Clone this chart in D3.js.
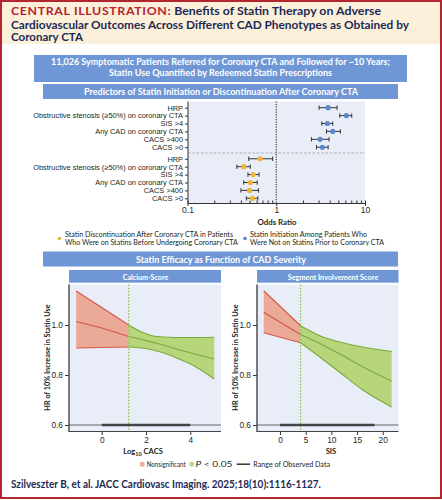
<!DOCTYPE html>
<html>
<head>
<meta charset="utf-8">
<script src="https://cdn.jsdelivr.net/npm/d3@7"></script>
<style>
  body { margin: 0; background: #fff; }
  svg { display: block; font-family: Lato, "Noto Sans", sans-serif; }
</style>
</head>
<body>
<script>
/* Forest plot data (odds ratios, 95% CI) */
var predictors = ["HRP", "Obstructive stenosis (\u226550%) on coronary CTA", "SIS >4",
                  "Any CAD on coronary CTA", "CACS >400", "CACS >0"];
var initOR = [3.84, 6.17, 3.77, 4.33, 3.12, 3.31];
var initLo = [3.04, 5.20, 3.26, 3.68, 2.49, 2.84];
var initHi = [4.85, 7.09, 4.33, 5.28, 3.94, 3.84];
var discOR = [0.66, 0.43, 0.55, 0.51, 0.50, 0.54];
var discLo = [0.49, 0.36, 0.48, 0.43, 0.40, 0.46];
var discHi = [0.91, 0.51, 0.64, 0.61, 0.63, 0.62];
var orTicks = [0.1, 1, 10];

/* Calcium score spline (HR of 10% increase in statin use) */
var cacsCut = 1.22;
var cacsRange = [0, 4];
var cacsTicks = [0, 2, 4];
var cacsRedX = [-1.15, 0, 1.22];
var cacsRedUp = [1.136, 1.07, 1.0];
var cacsRedMid = [1.014, 0.988, 0.954];
var cacsRedLo = [0.908, 0.91, 0.912];
var cacsGreenX = [1.22, 1.8, 2.4, 3.0, 3.6, 4.2, 5.08];
var cacsGreenUp = [1.0, 0.972, 0.955, 0.951, 0.95, 0.95, 0.951];
var cacsGreenMid = [0.954, 0.942, 0.929, 0.914, 0.898, 0.884, 0.864];
var cacsGreenLo = [0.912, 0.908, 0.898, 0.882, 0.86, 0.835, 0.784];

/* Segment involvement score spline */
var sisCut = 4;
var sisRange = [0, 18.4];
var sisTicks = [0, 5, 10, 15, 20];
var sisRedX = [-3.17, 4];
var sisRedUp = [1.137, 0.997];
var sisRedMid = [1.051, 0.962];
var sisRedLo = [0.969, 0.929];
var sisGreenX = [4, 8, 12, 16, 21.75];
var sisGreenUp = [0.997, 0.955, 0.93, 0.912, 0.894];
var sisGreenMid = [0.962, 0.923, 0.88, 0.834, 0.775];
var sisGreenLo = [0.929, 0.868, 0.805, 0.742, 0.672];
var hrTicks = [0.6, 0.8, 1.0];

var NAVY = "#1c2a55";
var BLUE = "#7097d5";
var PANEL = "#e8edf7";
var INK = "#231f20";

var svg = d3.select("body").append("svg")
    .attr("width", 442)
    .attr("height", 500);

// squeeze a text line to the width it has in the figure
function fit(sel, w) {
  sel.attr("textLength", w).attr("lengthAdjust", "spacingAndGlyphs");
  return sel;
}

/* frame + header */
svg.append("rect").attr("x", 2).attr("y", 2).attr("width", 438).attr("height", 42)
    .attr("fill", "#fcf0da");
svg.append("rect").attr("x", 1).attr("y", 1).attr("width", 440).attr("height", 497)
    .attr("fill", "none").attr("stroke", "#b3262f").attr("stroke-width", 2);

var t1 = svg.append("text").attr("x", 11).attr("y", 15)
    .attr("font-size", 11.5).attr("font-weight", 700);
t1.append("tspan").attr("fill", "#b3262f").attr("letter-spacing", 0.6).text("CENTRAL ILLUSTRATION:");
t1.append("tspan").attr("fill", NAVY).text(" Benefits of Statin Therapy on Adverse");
fit(t1, 370);
fit(svg.append("text").attr("x", 11).attr("y", 28.5).attr("font-size", 11.5).attr("font-weight", 700)
    .attr("fill", NAVY).text("Cardiovascular Outcomes Across Different CAD Phenotypes as Obtained by"), 398);
fit(svg.append("text").attr("x", 11).attr("y", 41).attr("font-size", 11.5).attr("font-weight", 700)
    .attr("fill", NAVY).text("Coronary CTA"), 72);

/* blue banners */
function banner(x0, x1, y0, y1) {
  svg.append("rect").attr("x", x0).attr("y", y0).attr("width", x1 - x0).attr("height", y1 - y0)
      .attr("fill", BLUE);
}
function bannerText(txt, cx, y, w, size) {
  return fit(svg.append("text").attr("x", cx).attr("y", y).attr("text-anchor", "middle")
      .attr("font-size", size).attr("font-weight", 700).attr("fill", "#fff").text(txt), w);
}
banner(34, 407, 55, 82);
bannerText("11,026 Symptomatic Patients Referred for Coronary CTA and Followed for ~10 Years;", 220.5, 65, 339, 9);
bannerText("Statin Use Quantified by Redeemed Statin Prescriptions", 220.5, 75.5, 223, 9);
banner(43, 398, 84, 99);
bannerText("Predictors of Statin Initiation or Discontinuation After Coronary CTA", 221, 94.5, 274, 9);
banner(43, 398, 251.5, 266.5);
bannerText("Statin Efficacy as Function of CAD Severity", 221, 262.5, 170, 9);

/* forest plot */
var fx = d3.scaleLog().domain([0.1, 10]).range([187.5, 365]);
var GAP = 0.46;
var fy = d3.scaleLinear().domain([0, 11 + GAP]).range([107.7, 198.3]);

svg.append("rect").attr("x", 188).attr("y", 101.5).attr("width", 177).attr("height", 101.5)
    .attr("fill", PANEL);
svg.append("line").attr("x1", 188).attr("x2", 365).attr("y1", fy(5.5 + GAP / 2)).attr("y2", fy(5.5 + GAP / 2))
    .attr("stroke", "#9a9a9a").attr("stroke-width", 0.8).attr("stroke-dasharray", "2.5,1.8");
svg.append("line").attr("x1", fx(1)).attr("x2", fx(1)).attr("y1", 101.5).attr("y2", 203)
    .attr("stroke", "#333").attr("stroke-width", 1.1).attr("stroke-dasharray", "1.2,1.3");

var rows = [];
predictors.forEach(function(p, i) {
  rows.push({label: p, pos: i, or: initOR[i], lo: initLo[i], hi: initHi[i], color: "#5b87d0"});
});
predictors.forEach(function(p, i) {
  rows.push({label: p, pos: i + 6 + GAP, or: discOR[i], lo: discLo[i], hi: discHi[i], color: "#efb336"});
});

var fyAxis = svg.append("g").attr("transform", "translate(188,0)")
    .call(d3.axisLeft(fy).tickValues(rows.map(function(d) { return d.pos; }))
        .tickFormat(function(d, i) { return rows[i].label; }).tickSize(3).tickPadding(2));
fyAxis.select(".domain").remove();
fyAxis.selectAll("line").attr("stroke", "#333");
fyAxis.selectAll("text").attr("font-size", 7.4).attr("fill", INK).attr("font-family", null);
svg.append("line").attr("x1", 188).attr("x2", 188).attr("y1", 101.5).attr("y2", 203)
    .attr("stroke", "#333").attr("stroke-width", 1);

var fxAxis = svg.append("g").attr("transform", "translate(0,203)")
    .call(d3.axisBottom(fx).ticks(10, "").tickSize(-2.5).tickPadding(4)
        .tickFormat(function(d) { return orTicks.indexOf(d) >= 0 ? String(d) : ""; }));
fxAxis.select(".domain").attr("stroke", "#333");
fxAxis.selectAll("line").attr("stroke", "#333");
fxAxis.selectAll(".tick").filter(function(d) { return orTicks.indexOf(d) >= 0; })
    .select("line").attr("y2", 3);
fxAxis.selectAll("text").attr("font-size", 8.5).attr("fill", INK).attr("font-family", null);
svg.append("text").attr("x", 277).attr("y", 224.5).attr("text-anchor", "middle")
    .attr("font-size", 7.8).attr("font-weight", 700).attr("fill", INK).text("Odds Ratio");

var bars = svg.append("g").selectAll("g").data(rows).join("g")
    .attr("transform", function(d) { return "translate(0," + fy(d.pos) + ")"; });
bars.append("line").attr("x1", function(d) { return fx(d.lo); }).attr("x2", function(d) { return fx(d.hi); })
    .attr("stroke", "#333").attr("stroke-width", 1);
bars.selectAll(".cap").data(function(d) { return [d.lo, d.hi]; }).join("line")
    .attr("x1", function(v) { return fx(v); }).attr("x2", function(v) { return fx(v); })
    .attr("y1", -2.2).attr("y2", 2.2).attr("stroke", "#333").attr("stroke-width", 1);
bars.append("circle").attr("cx", function(d) { return fx(d.or); }).attr("r", 2.6)
    .attr("fill", function(d) { return d.color; });

/* forest legend */
function legendLines(x, lines, w) {
  lines.forEach(function(s, i) {
    fit(svg.append("text").attr("x", x).attr("y", 237 + i * 8).attr("font-size", 7.4)
        .attr("fill", INK).text(s), w[i]);
  });
}
svg.append("circle").attr("cx", 59.3).attr("cy", 238.5).attr("r", 1.8).attr("fill", "#efb336");
legendLines(65, ["Statin Discontinuation After Coronary CTA in Patients",
                 "Who Were on Statins Before Undergoing Coronary CTA"], [168, 172.7]);
svg.append("circle").attr("cx", 245).attr("cy", 238.5).attr("r", 1.8).attr("fill", "#5b87d0");
legendLines(250, ["Statin Initiation Among Patients Who",
                  "Were Not on Statins Prior to Coronary CTA"], [117, 134]);

/* spline panels */
var hy = d3.scaleLinear().domain([0.6, 1.0]).range([425, 325]);
var TOP = 284.5, BOTTOM = 431.5;

function band(g, x, xs, up, mid, lo, fill, stroke) {
  var idx = d3.range(xs.length);
  g.append("path").datum(idx)
      .attr("d", d3.area().curve(d3.curveMonotoneX)
          .x(function(i) { return x(xs[i]); })
          .y0(function(i) { return hy(lo[i]); })
          .y1(function(i) { return hy(up[i]); }))
      .attr("fill", fill);
  [up, mid, lo].forEach(function(arr) {
    g.append("path").datum(idx)
        .attr("d", d3.line().curve(d3.curveMonotoneX)
            .x(function(i) { return x(xs[i]); })
            .y(function(i) { return hy(arr[i]); }))
        .attr("fill", "none").attr("stroke", stroke).attr("stroke-width", 1.1);
  });
}

function splinePanel(c) {
  var x = d3.scaleLinear().domain(c.domain).range(c.range);
  var g = svg.append("g");
  g.append("rect").attr("x", c.left).attr("y", 270).attr("width", c.right - c.left).attr("height", 12.7)
      .attr("fill", BLUE);
  fit(g.append("text").attr("x", c.hx).attr("y", 279.5).attr("text-anchor", "middle")
      .attr("font-size", 7.8).attr("font-weight", 700).attr("fill", "#fff").text(c.title), c.hw);
  g.append("rect").attr("x", c.left).attr("y", TOP).attr("width", c.right - c.left)
      .attr("height", BOTTOM - TOP).attr("fill", PANEL);

  band(g, x, c.redX, c.redUp, c.redMid, c.redLo, "#eba997", "#d6564b");
  band(g, x, c.greenX, c.greenUp, c.greenMid, c.greenLo, "#b7d57b", "#79ab39");

  g.append("line").attr("x1", x(c.cut)).attr("x2", x(c.cut)).attr("y1", TOP).attr("y2", BOTTOM)
      .attr("stroke", "#8cc04b").attr("stroke-width", 1.2).attr("stroke-dasharray", "1.6,1.6");

  // observed data range at HR 0.6
  g.append("line").attr("x1", c.left).attr("x2", c.right).attr("y1", hy(0.6)).attr("y2", hy(0.6))
      .attr("stroke", "#444").attr("stroke-width", 0.8);
  g.append("line").attr("x1", x(c.obs[0])).attr("x2", x(c.obs[1])).attr("y1", hy(0.6)).attr("y2", hy(0.6))
      .attr("stroke", "#444").attr("stroke-width", 2.4);

  var ya = g.append("g").attr("transform", "translate(" + c.left + ",0)")
      .call(d3.axisLeft(hy).tickValues(hrTicks).tickFormat(d3.format(".1f")).tickSize(4).tickPadding(2));
  ya.select(".domain").remove();
  ya.selectAll("line").attr("stroke", "#333");
  ya.selectAll("text").attr("font-size", 8.3).attr("fill", INK).attr("font-family", null);

  var xa = g.append("g").attr("transform", "translate(0," + BOTTOM + ")")
      .call(d3.axisBottom(x).tickValues(c.ticks).tickFormat(d3.format("d")).tickSize(3.5).tickPadding(2.5));
  xa.select(".domain").remove();
  xa.selectAll("line").attr("stroke", "#333");
  xa.selectAll("text").attr("font-size", 8.3).attr("fill", INK).attr("font-family", null);

  g.append("line").attr("x1", c.left).attr("x2", c.left).attr("y1", TOP).attr("y2", BOTTOM + 0.6)
      .attr("stroke", "#444").attr("stroke-width", 1.4);
  g.append("line").attr("x1", c.left).attr("x2", c.right).attr("y1", BOTTOM).attr("y2", BOTTOM)
      .attr("stroke", "#444").attr("stroke-width", 1);

  g.append("text").attr("transform", "translate(" + c.yt + ",357.5) rotate(-90)")
      .attr("text-anchor", "middle").attr("font-size", 7.3).attr("font-weight", 700)
      .attr("fill", INK).text("HR of 10% Increase in Statin Use");

  var xt = g.append("text").attr("x", c.xtx).attr("y", 454).attr("text-anchor", "middle")
      .attr("font-size", 7.6).attr("font-weight", 700).attr("fill", INK);
  c.xTitle.forEach(function(part) {
    var ts = xt.append("tspan").text(part.t);
    if (part.sub) ts.attr("font-size", 5.5).attr("dy", 1.8);
    else if (part.after) ts.attr("dy", -1.8);
  });
}

splinePanel({
  left: 69, right: 221, domain: [0, 4], range: [101.7, 190.3], title: "Calcium-Score", hx: 145.5, hw: 45.6,
  cut: cacsCut, obs: cacsRange, ticks: cacsTicks, yt: 50, xtx: 143,
  xTitle: [{t: "Log"}, {t: "10", sub: true}, {t: " CACS", after: true}],
  redX: cacsRedX, redUp: cacsRedUp, redMid: cacsRedMid, redLo: cacsRedLo,
  greenX: cacsGreenX, greenUp: cacsGreenUp, greenMid: cacsGreenMid, greenLo: cacsGreenLo
});
splinePanel({
  left: 257, right: 398.5, domain: [0, 20], range: [280, 382.7], title: "Segment Involvement Score",
  hx: 333, hw: 90.6, cut: sisCut, obs: sisRange, ticks: sisTicks, yt: 238, xtx: 331,
  xTitle: [{t: "SIS"}],
  redX: sisRedX, redUp: sisRedUp, redMid: sisRedMid, redLo: sisRedLo,
  greenX: sisGreenX, greenUp: sisGreenUp, greenMid: sisGreenMid, greenLo: sisGreenLo
});

/* bottom legend */
var lg = svg.append("g").attr("font-size", 7).attr("fill", INK);
lg.append("rect").attr("x", 140).attr("y", 462).attr("width", 4.5).attr("height", 4.5).attr("fill", "#eab0a2");
fit(lg.append("text").attr("x", 146.7).attr("y", 466.5).text("Nonsignificant"), 39);
lg.append("rect").attr("x", 189.3).attr("y", 462).attr("width", 4.5).attr("height", 4.5).attr("fill", "#bcd98a");
var pt = lg.append("text").attr("x", 195.5).attr("y", 466.5);
pt.append("tspan").attr("font-style", "italic").text("P");
pt.append("tspan").text(" < 0.05");
fit(pt, 37);
lg.append("line").attr("x1", 236.7).attr("x2", 250).attr("y1", 464.2).attr("y2", 464.2)
    .attr("stroke", "#333").attr("stroke-width", 1.5);
fit(lg.append("text").attr("x", 253.3).attr("y", 466.5).text("Range of Observed Data"), 76.7);

/* citation */
fit(svg.append("text").attr("x", 11).attr("y", 487.7).attr("font-size", 10.5).attr("font-weight", 700)
    .attr("fill", NAVY).text("Szilveszter B, et al. JACC Cardiovasc Imaging. 2025;18(10):1116-1127."), 310);
</script>
</body>
</html>
